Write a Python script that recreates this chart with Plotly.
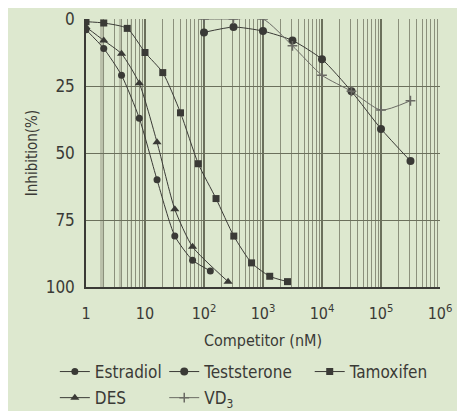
import plotly.graph_objects as go

# Données (concentration nM, inhibition %)
estradiol_x = [1, 2, 4, 8, 16, 32, 64, 128]
estradiol_y = [4, 11, 21, 37, 60, 81, 90, 94]

testosterone_x = [100, 316, 1000, 3160, 10000, 31600, 100000, 316000]
testosterone_y = [5, 3, 4.5, 8, 15, 27, 41, 53]

tamoxifen_x = [1, 2, 5, 10, 20, 40, 80, 160, 320, 640, 1300, 2600]
tamoxifen_y = [1, 1.5, 3.5, 12.5, 20, 35, 54, 67, 81, 91, 96, 98]

des_x = [1, 2, 4, 8, 16, 32, 64, 256]
des_y = [3, 8, 13, 24, 46, 71, 85, 98]

vd3_x = [100, 316, 1000, 3160, 10000, 31600, 100000, 316000]
vd3_y = [0, 0, 0, 10, 21, 27, 34, 30.5]

x_ticks = [1, 10, 100, 1000, 10000, 100000, 1000000]
x_ticktext = ["1", "10", "10<sup>2</sup>", "10<sup>3</sup>", "10<sup>4</sup>", "10<sup>5</sup>", "10<sup>6</sup>"]
y_ticks = [0, 25, 50, 75, 100]

BG = "#dde8cf"
INK = "#3a3a36"
GRID = "#6b705c"
FONT = "Liberation Sans Narrow, DejaVu Sans Condensed, Arial Narrow, Liberation Sans, Arial"

series = [
    ("Estradiol", estradiol_x, estradiol_y, "circle", 7, "legend"),
    ("Teststerone", testosterone_x, testosterone_y, "circle", 8, "legend2"),
    ("Tamoxifen", tamoxifen_x, tamoxifen_y, "square", 7, "legend3"),
    ("DES", des_x, des_y, "triangle-up", 8, "legend"),
    ("VD<sub>3</sub>", vd3_x, vd3_y, "cross-thin", 7, "legend2"),
]

fig = go.Figure()
for name, xs, ys, sym, size, leg in series:
    thin = sym == "cross-thin"
    fig.add_trace(go.Scatter(
        x=xs, y=ys, name=name, mode="lines+markers",
        legend=leg, legendgroup=name,
        line=dict(color="#6a6a64" if thin else INK, width=1, shape="spline", smoothing=0.6),
        marker=dict(symbol=sym, size=size, color=INK,
                    line=dict(color="#6a6a64" if thin else INK, width=1.5 if thin else 0)),
    ))

# bandes grises du scan
minor_vals = [m * 10 ** d for d in range(6) for m in range(2, 10)]
for x0, x1 in [(1.73, 2.02), (3.62, 4.0), (5.68, 6.0)]:
    fig.add_shape(type="rect", xref="x", yref="paper", x0=x0, x1=x1, y0=0, y1=1,
                  fillcolor="rgba(120,118,100,0.35)", line_width=0, layer="below")

legend_style = dict(orientation="v", yanchor="top", bgcolor="rgba(0,0,0,0)",
                    font=dict(family=FONT, size=17, color=INK), tracegroupgap=1,
                    itemwidth=30, y=-0.25)

# la page garde la marge de 8 px du body : figure de 457x403
fig.update_layout(
    width=457, height=403,
    margin=dict(l=78, r=25, t=11, b=124, autoexpand=False),
    paper_bgcolor=BG, plot_bgcolor=BG,
    font=dict(family=FONT, size=15, color=INK),
    showlegend=True,
    legend=dict(**legend_style, x=-0.088),
    legend2=dict(**legend_style, x=0.221),
    legend3=dict(**legend_style, x=0.632),
    xaxis=dict(
        type="log", range=[0, 6], automargin=False,
        tickvals=x_ticks, ticktext=x_ticktext, ticks="",
        ticklabelstandoff=11,
        showgrid=True, gridcolor=GRID, gridwidth=1.5,
        minor=dict(tickvals=minor_vals, showgrid=True, gridcolor="#8b907c", gridwidth=1),
        showline=True, linecolor=INK, linewidth=1.5,
        title=dict(text="Competitor (nM)", font=dict(size=16), standoff=13),
        tickfont=dict(size=16),
    ),
    yaxis=dict(
        range=[100, 0], tickvals=y_ticks, ticks="", automargin=False,
        ticklabelstandoff=6,
        showgrid=True, gridcolor=GRID, gridwidth=1.2,
        zeroline=False,
        showline=True, linecolor=INK, linewidth=1.5,
        title=dict(text="Inhibition(%)", font=dict(size=15), standoff=4),
        tickfont=dict(size=17),
    ),
)

fig.write_html("out.html")
